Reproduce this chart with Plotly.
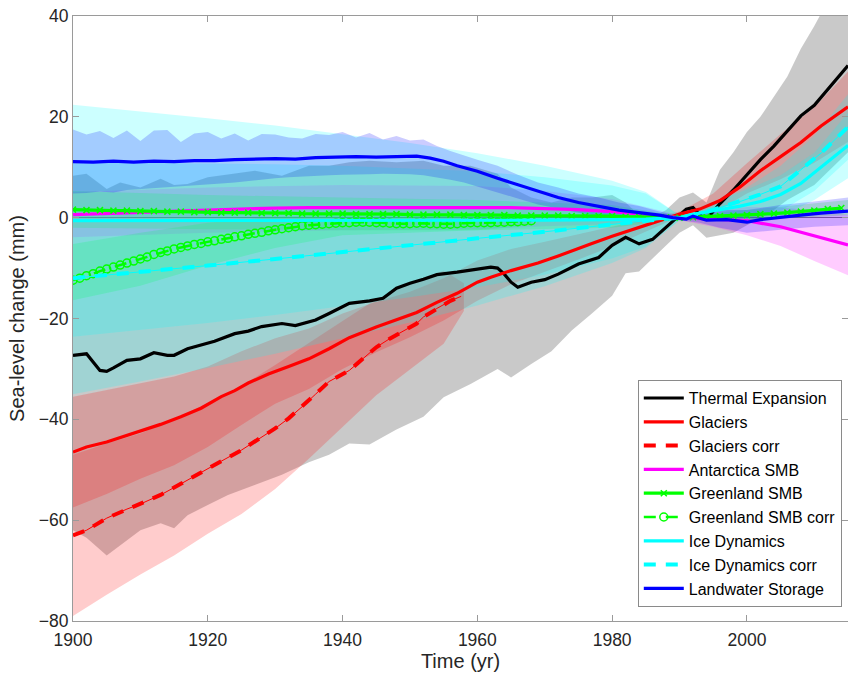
import plotly.graph_objects as go

# ---------------- DATA ----------------
# Thermal expansion (black)
TE_YEARS = [1900,1902,1904,1905,1906,1908,1910,1912,1914,1915,1917,1919,1921,1924,1926,1928,1931,1933,1936,1938,
            1941,1944,1946,1948,1950,1952,1954,1957,1960,1962,1963,1964,1965,1966,1968,1970,1972,1975,1978,1980,
            1982,1984,1986,1988,1990,1991,1992,1993,1994,1995,1996,1998,2000,2002,2004,2006,2008,2010,2012,2014,2015]
TE_VALS = [-27.3,-27.0,-30.3,-30.5,-29.8,-28.3,-28.0,-26.8,-27.3,-27.3,-26.0,-25.3,-24.5,-23.0,-22.5,-21.6,-21.0,-21.4,-20.3,-19.0,
           -17.0,-16.5,-16.0,-14.0,-13.0,-12.2,-11.3,-10.8,-10.2,-9.8,-10.0,-11.2,-12.8,-13.8,-12.8,-12.3,-11.2,-9.2,-7.9,-5.5,
           -3.9,-5.2,-4.3,-1.9,0.4,1.7,2.0,0.5,-0.3,1.2,2.8,5.5,8.5,11.5,14.2,17.2,20.2,22.3,25.5,28.5,30.2]
TB_YEARS = [1900,1902,1905,1907,1910,1913,1915,1917,1920,1923,1927,1931,1935,1938,1941,1944,1948,1952,1955,1959,
            1963,1965,1968,1971,1974,1977,1980,1982,1984,1986,1988,1990,1992,1994,1996,1998,2000,2002,2004,2006,
            2008,2010,2012,2015]
TB_UP = [8.3,8.7,5.7,7.0,6.0,7.7,6.5,6.7,8.0,8.5,9.3,8.3,10.3,10.3,11.0,11.3,11.0,11.3,10.3,10.3,
         8.7,6.0,4.0,3.0,4.0,4.0,4.5,3.0,0.5,0.0,1.5,4.0,5.0,3.0,9.5,13.0,17.0,20.0,24.0,28.0,
         33.5,38.0,43.0,50.0]
TB_LO = [-62.0,-63.5,-67.0,-65.0,-62.0,-60.6,-61.6,-59.0,-57.0,-55.0,-53.0,-51.0,-48.5,-47.0,-44.8,-45.0,-42.0,-39.5,-35.6,-33.0,
         -30.0,-31.7,-29.0,-26.5,-22.4,-19.0,-15.5,-11.0,-10.7,-8.0,-5.5,-3.0,-1.5,-4.0,-3.5,-3.0,-1.5,0.0,1.5,3.5,
         5.0,6.5,9.0,13.0]

# Glaciers (red)
GL_YEARS = [1900,1902,1905,1908,1910,1913,1916,1919,1922,1924,1926,1929,1932,1935,1938,1941,1945,1948,1951,1954,
            1957,1960,1962,1965,1969,1972,1975,1977,1980,1984,1987,1990,1993,1996,1999,2002,2005,2008,2011,2015]
GL_VALS = [-46.5,-45.5,-44.5,-43.2,-42.3,-41.0,-39.5,-37.8,-35.5,-34.3,-32.8,-31.0,-29.5,-28.0,-26.0,-23.8,-21.7,-20.2,-18.8,-16.8,
           -15.0,-12.8,-11.8,-10.5,-9.0,-7.6,-6.0,-5.1,-3.7,-1.9,-0.5,0.7,1.7,3.4,6.1,9.3,12.1,14.9,18.2,22.0]
GB_YEARS = [1900,1905,1910,1915,1920,1925,1930,1935,1940,1945,1950,1955,1960,1965,1970,1975,1980,1985,1990,1995,
            2000,2005,2010,2015]
GB_UP = [-35.5,-34.2,-32.8,-31.5,-29.5,-26.5,-23.9,-22.0,-19.0,-16.7,-14.7,-12.0,-8.5,-6.2,-4.8,-3.3,-1.7,-0.3,1.2,4.8,
         10.8,16.6,21.9,29.0]
GB_LO = [-57.5,-54.8,-51.8,-49.1,-45.5,-41.1,-36.9,-34.0,-30.0,-26.7,-23.7,-20.4,-16.5,-13.2,-10.8,-8.3,-5.7,-2.7,0.2,0.8,
         4.8,7.6,10.9,15.0]

# Glaciers corr (red dashed)
GC_YEARS = [1900,1902,1905,1908,1910,1913,1916,1920,1922,1925,1928,1930,1932,1934,1936,1938,1941,1943,1945,1947,
            1949,1951,1952,1954,1956,1957.6]
GC_VALS = [-63.0,-62.0,-59.6,-57.8,-56.8,-55.0,-52.8,-49.7,-48.3,-46.1,-43.5,-41.8,-39.8,-37.5,-35.0,-32.5,-30.3,-28.0,-25.7,-24.0,
           -22.5,-21.0,-19.7,-18.0,-16.5,-15.6]
GCB_YEARS = [1900,1905,1910,1915,1920,1925,1930,1935,1940,1945,1950,1955,1958]
GCB_UP = [-47.0,-44.8,-42.8,-40.0,-36.7,-33.4,-29.2,-24.8,-20.5,-16.2,-13.1,-10.5,-13.0]
GCB_LO = [-79.0,-74.8,-70.8,-67.0,-62.7,-58.8,-53.8,-47.8,-41.5,-35.2,-30.1,-25.0,-18.5]

# Antarctica SMB (magenta)
AN_YEARS = [1900,1910,1920,1930,1935,1950,1965,1975,1980,1985,1990,1995,2000,2005,2008,2010,2015]
AN_VALS = [0.6,1.1,1.5,1.9,2.0,2.0,2.0,1.6,1.2,0.6,0.0,-0.3,-0.6,-1.8,-2.9,-3.6,-5.4]
AB_YEARS = [1900,1920,1940,1960,1970,1980,1985,1990,1995,2000,2005,2010,2015]
AB_UP = [5.1,6.0,6.5,6.3,5.3,3.7,2.1,0.5,1.2,2.1,2.0,1.4,0.6]
AB_LO = [-3.9,-3.0,-2.5,-2.3,-1.7,-1.3,-0.9,-0.5,-1.8,-3.5,-5.6,-8.6,-11.4]

# Greenland SMB (green, x markers)
GR_YEARS = [1900,1902,1904,1906,1908,1910,1912,1914,1916,1918,1920,1922,1924,1926,1928,1930,1932,1934,1936,1938,
            1940,1942,1944,1946,1948,1950,1952,1954,1956,1958,1960,1962,1964,1966,1968,1970,1972,1974,1976,1978,
            1980,1982,1984,1986,1988,1990,1992,1994,1996,1998,2000,2002,2004,2006,2008,2010,2012,2014]
GR_VALS = [1.6,1.5,1.5,1.4,1.4,1.3,1.3,1.2,1.2,1.1,1.1,1.0,1.0,1.0,0.9,0.9,0.9,0.8,0.8,0.8,
           0.8,0.7,0.7,0.7,0.7,0.6,0.6,0.6,0.6,0.5,0.5,0.5,0.5,0.4,0.4,0.4,0.4,0.3,0.3,0.3,
           0.3,0.2,0.2,0.1,0.1,0.0,0.1,0.2,0.3,0.4,0.5,0.7,0.8,1.0,1.2,1.4,1.7,1.9]
GRB_YEARS = [1900,1920,1940,1960,1980,1990,2000,2015]
GRB_UP = [5.3,4.5,4.0,3.5,2.5,0.3,1.5,3.5]
GRB_LO = [-2.0,-2.3,-2.5,-2.5,-2.0,-0.3,-0.5,0.5]

# Greenland SMB corr (green dashed, circles)
GRC_YEARS = list(range(1900, 1969))
GRC_VALS = [-12.4,-12.0,-11.5,-11.1,-10.6,-10.2,-9.8,-9.4,-9.0,-8.6,
            -8.2,-7.8,-7.3,-6.9,-6.6,-6.2,-5.9,-5.6,-5.3,-5.1,
            -4.8,-4.6,-4.3,-4.1,-3.8,-3.6,-3.3,-3.1,-2.9,-2.6,
            -2.4,-2.2,-2.0,-1.8,-1.6,-1.5,-1.4,-1.3,-1.2,-1.1,
            -1.0,-1.0,-0.9,-0.9,-0.9,-1.0,-1.0,-1.1,-1.2,-1.2,
            -1.2,-1.1,-1.1,-1.2,-1.2,-1.3,-1.3,-1.2,-1.1,-1.0,
            -1.0,-1.0,-1.0,-0.9,-0.9,-0.8,-0.8,-0.7,-0.6]
GRCB_YEARS = [1900,1910,1920,1930,1940,1950,1960,1968]
GRCB_UP = [-5.2,-3.0,-1.0,0.2,0.8,0.8,0.5,0.3]
GRCB_LO = [-16.4,-13.5,-9.5,-6.0,-3.5,-3.0,-2.5,-1.5]

# Ice dynamics (cyan) and its corrected version (cyan dashed)
ICE_YEARS = [1900,1910,1920,1930,1940,1950,1960,1970,1980,1985,1990,1993,1996,1999,2002,2005,2008,2011,2015]
ICE_VALS = [-0.6,-0.6,-0.6,-0.5,-0.5,-0.5,-0.5,-0.5,-0.4,-0.3,0.0,0.9,1.6,2.3,3.2,4.6,6.8,10.0,14.3]
ICEC_VALS = [-12.0,-10.8,-9.5,-8.2,-6.8,-5.5,-4.1,-2.8,-1.3,-0.6,0.0,0.8,2.0,3.2,4.6,6.2,9.5,12.8,18.0]
IB_YEARS = [1900,1910,1920,1930,1940,1950,1960,1970,1980,1985,1990,1995,2000,2005,2010,2015]
IB_UP = [22.4,21.1,19.7,18.3,16.6,14.8,12.8,10.3,7.3,5.1,0.5,3.0,5.6,8.4,12.9,20.8]
IB_LO = [-23.6,-22.3,-20.9,-19.3,-17.6,-15.8,-13.8,-11.3,-8.1,-5.7,-0.5,-0.4,-0.4,0.2,3.5,7.8]
ICB_UP = [11.0,10.9,10.8,10.6,10.3,9.8,9.2,8.0,6.4,4.8,0.5,3.0,6.0,10.3,16.3,24.5]
ICB_LO = [-35.0,-32.5,-29.8,-27.0,-23.9,-20.8,-17.4,-13.6,-9.0,-6.0,-0.5,0.0,0.0,1.3,5.3,11.5]

# Landwater storage (blue)
LW_YEARS = [1900,1903,1906,1909,1912,1915,1918,1921,1924,1927,1930,1933,1936,1939,1942,1945,1948,1951,1953,1955,
            1957,1960,1963,1966,1969,1972,1975,1978,1981,1984,1987,1989,1991,1992,1994,1997,2000,2002,2005,2008,
            2011,2015]
LW_VALS = [11.1,11.0,11.2,11.0,11.2,11.1,11.3,11.3,11.5,11.6,11.7,11.6,11.9,12.0,12.1,12.0,12.1,12.2,11.8,11.2,
           10.3,9.2,7.8,6.5,5.2,4.0,3.0,2.2,1.5,1.0,0.5,0.0,-0.3,0.3,-0.5,-0.4,-0.9,-0.4,0.1,0.5,
           0.9,1.3]
LB_YEARS = [1900,1902,1904,1906,1908,1910,1912,1914,1916,1918,1920,1922,1924,1926,1928,1930,1932,1934,1936,1938,
            1940,1942,1944,1946,1948,1950,1952,1954,1956,1958,1960,1963,1966,1969,1972,1975,1978,1981,1984,1987,
            1990,1993,1996,2000,2005,2010,2015]
LB_UP = [17.5,16.5,17.2,15.8,17.3,15.2,17.3,17.4,15.0,16.7,17.0,15.7,16.7,15.3,16.6,16.5,15.9,15.7,16.6,16.4,
         17.0,15.9,16.8,15.5,16.2,15.3,15.5,14.2,13.2,12.3,11.5,10.3,8.5,7.0,6.0,4.8,4.0,3.0,2.3,1.2,
         0.3,1.0,1.5,1.5,2.5,3.2,4.0]
LB_LO = [4.8,4.9,5.2,5.0,5.5,5.6,5.8,6.0,6.2,6.4,6.6,6.8,7.0,7.3,7.5,7.8,8.0,8.2,8.3,8.4,
         8.5,8.6,8.6,8.7,8.7,8.6,8.4,8.0,7.5,7.0,6.2,5.0,3.8,2.6,1.8,1.0,0.4,0.0,-0.2,-0.3,
         -0.5,-1.0,-2.0,-3.0,-2.4,-1.8,-1.5]

X_TICKS = [1900, 1920, 1940, 1960, 1980, 2000]
Y_TICKS = [-80, -60, -40, -20, 0, 20, 40]

# ---------------- FIGURE ----------------
BLACK = "#000000"
RED = "#ff0000"
MAGENTA = "#ff00ff"
GREEN = "#00ff00"
CYAN = "#00ffff"
BLUE = "#0000ff"


def rgba(hex_color, a):
    h = hex_color.lstrip("#")
    r, g, b = int(h[0:2], 16), int(h[2:4], 16), int(h[4:6], 16)
    return f"rgba({r},{g},{b},{a})"


def band(years, up, lo, color, alpha=0.2):
    return go.Scatter(
        x=list(years) + list(years)[::-1],
        y=list(up) + list(lo)[::-1],
        fill="toself", fillcolor=rgba(color, alpha),
        line=dict(width=0), mode="lines",
        showlegend=False, hoverinfo="skip",
    )


fig = go.Figure()

# uncertainty bands
fig.add_trace(band(TB_YEARS, TB_UP, TB_LO, BLACK, 0.21))
fig.add_trace(band(GB_YEARS, GB_UP, GB_LO, RED))
fig.add_trace(band(GCB_YEARS, GCB_UP, GCB_LO, RED))
fig.add_trace(band(AB_YEARS, AB_UP, AB_LO, MAGENTA))
fig.add_trace(band(GRB_YEARS, GRB_UP, GRB_LO, GREEN))
fig.add_trace(band(GRCB_YEARS, GRCB_UP, GRCB_LO, GREEN))
fig.add_trace(band(IB_YEARS, IB_UP, IB_LO, CYAN))
fig.add_trace(band(IB_YEARS, ICB_UP, ICB_LO, CYAN))
fig.add_trace(band(LB_YEARS, LB_UP, LB_LO, BLUE))

LW = 3.2
# lines
fig.add_trace(go.Scatter(x=TE_YEARS, y=TE_VALS, mode="lines", name="Thermal Expansion",
                         line=dict(color=BLACK, width=LW)))
fig.add_trace(go.Scatter(x=GL_YEARS, y=GL_VALS, mode="lines", name="Glaciers",
                         line=dict(color=RED, width=LW)))
fig.add_trace(go.Scatter(x=GC_YEARS, y=GC_VALS, mode="lines", showlegend=False, hoverinfo="skip",
                         line=dict(color=RED, width=1)))
fig.add_trace(go.Scatter(x=GC_YEARS, y=GC_VALS, mode="lines", name="Glaciers corr",
                         line=dict(color=RED, width=LW + 0.8, dash="12px,10px")))
fig.add_trace(go.Scatter(x=AN_YEARS, y=AN_VALS, mode="lines", name="Antarctica SMB",
                         line=dict(color=MAGENTA, width=LW)))
fig.add_trace(go.Scatter(x=GR_YEARS, y=GR_VALS, mode="lines+markers", name="Greenland SMB",
                         line=dict(color=GREEN, width=LW),
                         marker=dict(symbol="x-thin", size=6, color=GREEN,
                                     line=dict(color=GREEN, width=1.5))))
fig.add_trace(go.Scatter(x=GRC_YEARS, y=GRC_VALS, mode="lines+markers", name="Greenland SMB corr",
                         line=dict(color=GREEN, width=2.5, dash="12px,10px"),
                         marker=dict(symbol="circle-open", size=8, color=GREEN,
                                     line=dict(color=GREEN, width=1.5))))
fig.add_trace(go.Scatter(x=ICE_YEARS, y=ICE_VALS, mode="lines", name="Ice Dynamics",
                         line=dict(color=CYAN, width=LW)))
fig.add_trace(go.Scatter(x=ICE_YEARS, y=ICEC_VALS, mode="lines", showlegend=False, hoverinfo="skip",
                         line=dict(color=CYAN, width=1)))
fig.add_trace(go.Scatter(x=ICE_YEARS, y=ICEC_VALS, mode="lines", name="Ice Dynamics corr",
                         line=dict(color=CYAN, width=LW + 0.8, dash="12px,10px")))
fig.add_trace(go.Scatter(x=LW_YEARS, y=LW_VALS, mode="lines", name="Landwater Storage",
                         line=dict(color=BLUE, width=LW)))

FONT = "Liberation Sans, Arial, Helvetica, sans-serif"
AXCOL = "#9a9a9a"
TXT = "#262626"

fig.update_layout(
    width=848, height=675,
    margin=dict(l=73, r=0, t=16, b=54, autoexpand=False),
    paper_bgcolor="white", plot_bgcolor="white",
    font=dict(family=FONT, size=18, color=TXT),
    legend=dict(
        x=0.992, y=0.023, xanchor="right", yanchor="bottom",
        bgcolor="white", bordercolor="#8a8a8a", borderwidth=1,
        font=dict(family=FONT, size=16, color="#000000"),
        itemwidth=40, tracegroupgap=0,
    ),
    xaxis=dict(
        range=[1900, 2015], tickvals=X_TICKS, ticks="inside", ticklen=6,
        tickcolor=AXCOL, showline=True, linecolor=AXCOL, linewidth=1, mirror="ticks",
        showgrid=False, zeroline=False, automargin=False, ticklabelstandoff=3,
        tickfont=dict(family=FONT, size=17.5, color=TXT),
        title=dict(text="Time (yr)", font=dict(family=FONT, size=20, color=TXT), standoff=4),
    ),
    yaxis=dict(
        range=[-80, 40], tickvals=Y_TICKS, ticks="inside", ticklen=6,
        tickcolor=AXCOL, showline=True, linecolor=AXCOL, linewidth=1, mirror="ticks",
        showgrid=False, zeroline=True, zerolinecolor="rgba(60,60,60,0.7)", zerolinewidth=1,
        automargin=False,
        tickfont=dict(family=FONT, size=17.5, color=TXT),
        title=dict(text="Sea-level change (mm)", font=dict(family=FONT, size=20, color=TXT), standoff=8),
    ),
)

fig.write_html(
    "out.html",
    config={"displayModeBar": False},
    post_script="document.body.style.margin='0px';document.body.style.overflow='hidden';",
)
